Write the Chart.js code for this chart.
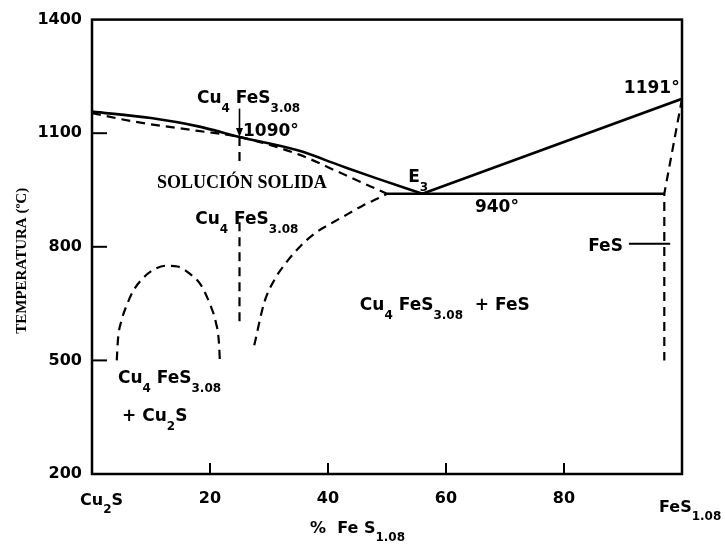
<!DOCTYPE html>
<html>
<head>
<meta charset="utf-8">
<title>Cu2S - FeS1.08</title>
<script src="https://cdn.jsdelivr.net/npm/chart.js@4.4.1/dist/chart.umd.min.js"></script>
<style>
  html, body { margin: 0; padding: 0; background: #fff; }
  #diagrama { display: block; }
</style>
</head>
<body>
<canvas id="diagrama" width="725" height="549"></canvas>
<script>
// ejes: % FeS1.08 y temperatura en ºC
var xTicks = [0, 20, 40, 60, 80, 100];
var xTickLabels = ['Cu_{2}S', '20', '40', '60', '80', 'FeS_{1.08}'];
var yTicks = [1400, 1100, 800, 500, 200];

// liquidus lado Cu2S hasta E3
var liqIzqX = [0, 10, 18, 25, 35, 42, 48, 56];
var liqIzqT = [1157, 1140, 1118, 1090, 1054, 1015, 982, 940];
// liquidus lado FeS
var liqDerX = [56, 100];
var liqDerT = [940, 1191];
// horizontal eutéctica (940º)
var eutX = [50, 97];
var eutT = [940, 940];
// solidus de la solución sólida
var solX = [0, 7, 18, 25, 35, 42, 50];
var solT = [1153, 1131, 1106, 1090, 1044, 996, 940];
// solvus derecho de la solución sólida
var solvX = [27.5, 29.2, 31.0, 33.1, 35.4, 38.0, 40.8, 43.4, 45.8, 48.6, 50];
var solvT = [540, 653, 715, 762, 803, 838, 864, 887, 908, 929, 940];
// domo Cu4FeS3.08 + Cu2S
var domoX = [4.2, 4.4, 5.0, 6.0, 7.0, 8.5, 10.5, 12.5, 14.5, 16.5, 18.5, 20.0, 21.0, 21.5, 21.7];
var domoT = [500, 555, 605, 650, 684, 715, 740, 750, 748, 730, 698, 648, 600, 550, 490];
// composición Cu4FeS3.08 (cortada por el texto)
var compAX = [25, 25];
var compAT = [1090, 1020];
var compBX = [25, 25];
var compBT = [865, 590];
// límite del FeS
var fesX = [100, 97, 97];
var fesT = [1191, 940, 500];
var fesMarcaX = [91, 98];
var fesMarcaT = [808, 808];

var FUENTE = '"DejaVu Sans", sans-serif';
var SERIF = '"Liberation Serif", "Times New Roman", serif';

// textos dentro del diagrama (x en %, y en ºC)
var etiquetas = [
  { t: 'Cu_{4} FeS_{3.08}', x: 17.8, y: 1179 },
  { t: '1090°', x: 25.6, y: 1092 },
  { t: 'SOLUCIÓN SOLIDA', x: 25.4, y: 968, serif: true, align: 'center', size: 18, middle: true },
  { t: 'Cu_{4} FeS_{3.08}', x: 17.5, y: 861 },
  { t: 'E_{3}', x: 53.6, y: 971 },
  { t: '940°', x: 64.9, y: 891 },
  { t: '1191°', x: 99.6, y: 1205, align: 'right' },
  { t: 'FeS', x: 84.1, y: 788 },
  { t: 'Cu_{4} FeS_{3.08}  + FeS', x: 45.4, y: 632 },
  { t: 'Cu_{4} FeS_{3.08}', x: 4.4, y: 440 },
  { t: '+ Cu_{2}S', x: 5.1, y: 341 }
];

function partesQuimica(txt) {
  var partes = [], re = /_\{([^}]*)\}/g, ult = 0, m;
  while ((m = re.exec(txt)) !== null) {
    if (m.index > ult) partes.push({ t: txt.slice(ult, m.index), sub: false });
    partes.push({ t: m[1], sub: true });
    ult = re.lastIndex;
  }
  if (ult < txt.length) partes.push({ t: txt.slice(ult), sub: false });
  return partes;
}

// escribe un texto con subíndices marcados como _{...}
function escribe(ctx, txt, x, y, op) {
  op = op || {};
  var size = op.size || 17;
  var fam = op.family || FUENTE;
  var fMain = 'bold ' + size + 'px ' + fam;
  var fSub = 'bold ' + Math.round(size * 0.72) + 'px ' + fam;
  var partes = partesQuimica(txt);
  var ancho = 0;
  partes.forEach(function (p) {
    ctx.font = p.sub ? fSub : fMain;
    p.w = ctx.measureText(p.t).width;
    ancho += p.w;
  });
  var x0 = x;
  if (op.align === 'center') x0 = x - ancho / 2;
  else if (op.align === 'right') x0 = x - ancho;
  ctx.textAlign = 'left';
  ctx.textBaseline = op.middle ? 'middle' : 'alphabetic';
  partes.forEach(function (p) {
    ctx.font = p.sub ? fSub : fMain;
    ctx.fillText(p.t, x0, p.sub ? y + Math.round(size * 0.5) : y);
    x0 += p.w;
  });
}

function linea(ctx, x1, y1, x2, y2) {
  ctx.beginPath();
  ctx.moveTo(x1, y1);
  ctx.lineTo(x2, y2);
  ctx.stroke();
}

function serie(xs, ts, extra) {
  var d = {
    data: xs.map(function (x, i) { return { x: x, y: ts[i] }; }),
    showLine: true,
    pointRadius: 0,
    borderColor: '#000',
    borderWidth: 2.6,
    tension: 0,
    fill: false
  };
  return Object.assign(d, extra || {});
}

var rayas = { borderDash: [9, 6], borderWidth: 2.2 };
var curva = { cubicInterpolationMode: 'monotone' };

var marcoYTextos = {
  id: 'marcoYTextos',
  afterDatasetsDraw: function (chart) {
    var ctx = chart.ctx, a = chart.chartArea;
    var xs = chart.scales.x, ys = chart.scales.y;
    ctx.save();
    ctx.strokeStyle = '#000';
    ctx.fillStyle = '#000';

    // marco
    ctx.lineWidth = 2.5;
    ctx.strokeRect(a.left, a.top, a.right - a.left, a.bottom - a.top);

    // marcas hacia dentro
    ctx.lineWidth = 2;
    yTicks.forEach(function (v) {
      if (v === ys.min || v === ys.max) return;
      var py = ys.getPixelForValue(v);
      linea(ctx, a.left, py, a.left + 15, py);
    });
    xTicks.forEach(function (v) {
      if (v === xs.min || v === xs.max) return;
      var px = xs.getPixelForValue(v);
      linea(ctx, px, a.bottom, px, a.bottom - 11);
    });

    // rótulos del eje x
    xTicks.forEach(function (v, i) {
      var px = xs.getPixelForValue(v);
      if (i === 0) escribe(ctx, xTickLabels[i], px - 12, a.bottom + 31, { size: 16 });
      else if (i === xTicks.length - 1) escribe(ctx, xTickLabels[i], px - 23, a.bottom + 38, { size: 16 });
      else escribe(ctx, xTickLabels[i], px, a.bottom + 29, { size: 16, align: 'center' });
    });

    // títulos de los ejes
    escribe(ctx, '%  Fe S_{1.08}', 310, a.bottom + 59, { size: 16 });
    ctx.save();
    ctx.translate(22, (a.top + a.bottom) / 2 + 14);
    ctx.rotate(-Math.PI / 2);
    ctx.font = 'bold 15px ' + SERIF;
    ctx.textAlign = 'center';
    ctx.textBaseline = 'middle';
    ctx.fillText('TEMPERATURA (ºC)', 0, 0);
    ctx.restore();

    // textos del diagrama
    etiquetas.forEach(function (e) {
      escribe(ctx, e.t, xs.getPixelForValue(e.x), ys.getPixelForValue(e.y), {
        size: e.size || 17,
        family: e.serif ? SERIF : FUENTE,
        align: e.align,
        middle: e.middle
      });
    });

    // flecha hacia el máximo de 1090º
    var fx = xs.getPixelForValue(25);
    var y0 = ys.getPixelForValue(1165), y1 = ys.getPixelForValue(1090);
    ctx.lineWidth = 1.6;
    linea(ctx, fx, y0, fx, y1 - 6);
    ctx.beginPath();
    ctx.moveTo(fx, y1);
    ctx.lineTo(fx - 3.5, y1 - 9);
    ctx.lineTo(fx + 3.5, y1 - 9);
    ctx.closePath();
    ctx.fill();

    ctx.restore();
  }
};

new Chart(document.getElementById('diagrama'), {
  type: 'scatter',
  data: {
    datasets: [
      serie(liqIzqX, liqIzqT, curva),
      serie(liqDerX, liqDerT),
      serie(eutX, eutT),
      serie(solX, solT, Object.assign({}, curva, rayas)),
      serie(solvX, solvT, Object.assign({}, curva, rayas)),
      serie(domoX, domoT, Object.assign({}, curva, rayas)),
      serie(compAX, compAT, rayas),
      serie(compBX, compBT, rayas),
      serie(fesX, fesT, rayas),
      serie(fesMarcaX, fesMarcaT, { borderWidth: 1.8 })
    ]
  },
  options: {
    responsive: false,
    animation: false,
    layout: { padding: { top: 13, right: 43, left: 0, bottom: 0 } },
    plugins: {
      legend: { display: false },
      tooltip: { enabled: false }
    },
    scales: {
      x: {
        type: 'linear',
        min: 0,
        max: 100,
        grid: { display: false },
        border: { display: false },
        ticks: { display: false, stepSize: 20 },
        afterFit: function (s) { s.height = 75; }
      },
      y: {
        type: 'linear',
        min: 200,
        max: 1400,
        grid: { display: false, drawTicks: false },
        border: { display: false },
        ticks: {
          stepSize: 300,
          padding: 10,
          color: '#000',
          font: { family: FUENTE, weight: 'bold', size: 16 },
          callback: function (v) { return String(v); }
        },
        afterFit: function (s) { s.width = 92; }
      }
    }
  },
  plugins: [marcoYTextos]
});
</script>
</body>
</html>
